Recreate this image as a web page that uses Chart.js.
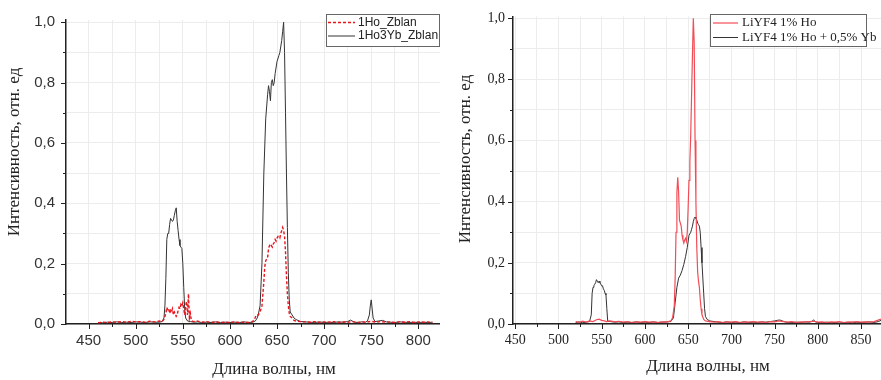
<!DOCTYPE html>
<html>
<head>
<meta charset="utf-8">
<script src="https://cdn.jsdelivr.net/npm/chart.js@4.4.1/dist/chart.umd.min.js"></script>
<style>
html, body { margin: 0; padding: 0; background: #fff; }
#wrap { position: relative; width: 881px; height: 380px; }
.box { position: absolute; top: 0; height: 380px; }
</style>
</head>
<body>
<div id="wrap">
  <div class="box" style="left:0;width:440px"><canvas id="zblan"></canvas></div>
  <div class="box" style="left:440px;width:441px"><canvas id="liyf"></canvas></div>
</div>
<script>
// ---- left panel: ZBLAN glass ----
const zblanHoWl = [
  460, 465, 470, 475, 480, 485, 490, 495, 500, 505,
  510, 515, 520, 525, 528, 530, 532, 533, 534, 535,
  536, 537, 538, 539, 540, 541, 542, 543, 544, 545,
  546, 547, 548, 549, 550, 551, 552, 553, 554, 555,
  556, 557, 558, 559, 561, 565, 570, 575, 580, 585,
  590, 595, 600, 605, 610, 615, 620, 624, 626, 628,
  630, 632, 634, 635, 636, 637, 638, 640, 641, 642,
  643, 644, 645, 646, 647, 648, 649, 650, 651, 652,
  653, 654, 655, 656, 657, 658, 659, 660, 661, 662,
  663, 664, 666, 668, 670, 675, 680, 685, 690, 695,
  700, 705, 710, 715, 720, 725, 730, 735, 740, 745,
  750, 755, 760, 765, 770, 775, 780, 785, 790, 795,
  800, 805, 810, 815
]
const zblanHoI = [
  .004, .006, .005, .007, .006, .008, .006, .009, .007, .008,
  .006, .009, .007, .010, .008, .015, .035, .055, .045, .050,
  .035, .045, .040, .050, .030, .040, .035, .025, .030, .045,
  .055, .050, .065, .060, .070, .050, .030, .060, .075, .030,
  .100, .020, .035, .012, .008, .010, .006, .008, .005, .007,
  .005, .006, .005, .007, .005, .006, .005, .008, .015, .030,
  .030, .040, .060, .100, .140, .190, .210, .220, .250, .260,
  .255, .260, .255, .265, .270, .280, .275, .285, .290, .290,
  .285, .300, .310, .320, .310, .290, .240, .160, .100, .060,
  .035, .025, .020, .012, .010, .008, .007, .006, .008, .005,
  .007, .006, .008, .005, .007, .006, .008, .005, .007, .006,
  .009, .006, .008, .006, .007, .005, .007, .006, .008, .005,
  .007, .006, .007, .005
]
const zblanYbWl = [
  460, 465, 470, 475, 480, 485, 490, 495, 500, 505,
  510, 515, 520, 525, 528, 530, 531, 532, 533, 534,
  535, 536, 537, 538, 539, 540, 541, 542, 543, 544,
  545, 546, 547, 548, 549, 550, 551, 552, 553, 555,
  558, 562, 566, 570, 575, 580, 585, 590, 595, 600,
  605, 610, 615, 620, 624, 627, 629, 630, 632, 634,
  636, 638, 640, 641, 642, 643, 644, 645, 646, 647,
  648, 650, 652, 653, 655, 656, 657, 658, 659, 660,
  661, 662, 663, 664, 666, 668, 670, 675, 680, 685,
  690, 695, 700, 705, 710, 715, 720, 725, 728, 732,
  736, 740, 744, 746, 748, 749, 750, 751, 752, 754,
  758, 762, 766, 770, 775, 780, 785, 790, 795, 800,
  805, 810, 815
]
const zblanYbI = [
  .005, .004, .006, .005, .007, .005, .006, .005, .007, .006,
  .005, .007, .006, .006, .008, .020, .060, .150, .280, .300,
  .300, .330, .350, .345, .340, .345, .360, .375, .385, .340,
  .310, .280, .260, .255, .250, .200, .120, .050, .020, .010,
  .008, .006, .007, .005, .006, .005, .007, .005, .006, .005,
  .006, .005, .007, .005, .006, .010, .020, .030, .060, .200,
  .500, .680, .760, .790, .770, .740, .800, .810, .790, .800,
  .830, .870, .890, .900, .940, .970, 1.00, .900, .700, .500,
  .320, .170, .080, .040, .030, .020, .015, .008, .007, .006,
  .005, .007, .005, .006, .005, .007, .006, .008, .013, .006,
  .005, .007, .006, .010, .030, .060, .080, .050, .020, .008,
  .010, .012, .007, .006, .005, .007, .006, .005, .006, .005,
  .006, .005, .006
]
const zblanXMajor = [450, 500, 550, 600, 650, 700, 750, 800]
const zblanXMinor = [475, 525, 575, 625, 675, 725, 775]

// ---- right panel: LiYF4 crystal ----
const liyfHoWl = [
  520, 524, 528, 532, 536, 540, 544, 547, 550, 553,
  556, 560, 565, 570, 575, 580, 585, 590, 595, 600,
  605, 610, 615, 620, 625, 630, 632, 634, 635, 636,
  637, 638, 639, 640, 641, 642, 643, 644, 645, 646,
  647, 648, 649, 650, 651, 652, 653, 654, 655, 656,
  657, 658, 659, 660, 661, 662, 663, 664, 665, 666,
  668, 670, 675, 680, 685, 690, 695, 700, 705, 710,
  715, 720, 725, 730, 735, 740, 745, 750, 755, 760,
  765, 770, 775, 780, 785, 790, 795, 800, 805, 810,
  815, 820, 825, 830, 835, 840, 845, 850, 855, 860,
  865, 869, 873
]
const liyfHoI = [
  .008, .005, .009, .006, .010, .008, .014, .016, .012, .010,
  .008, .010, .007, .009, .006, .008, .005, .007, .006, .008,
  .006, .007, .005, .007, .006, .010, .020, .060, .150, .300,
  .430, .480, .430, .340, .330, .320, .290, .275, .265, .275,
  .280, .270, .300, .380, .470, .530, .620, .750, .880, 1.00,
  .920, .600, .400, .250, .170, .140, .120, .080, .050, .030,
  .015, .010, .008, .006, .008, .005, .007, .006, .008, .005,
  .007, .006, .008, .006, .007, .005, .008, .007, .010, .008,
  .006, .008, .005, .007, .006, .008, .009, .006, .007, .005,
  .007, .006, .008, .005, .007, .006, .008, .006, .007, .006,
  .008, .012, .016
]
const liyfYbWl = [
  520, 524, 528, 532, 536, 538, 539, 540, 541, 542,
  543, 544, 545, 546, 547, 548, 549, 550, 551, 552,
  553, 554, 555, 556, 557, 560, 565, 570, 575, 580,
  585, 590, 595, 600, 605, 610, 615, 620, 625, 630,
  633, 635, 637, 639, 641, 643, 645, 647, 649, 651,
  652, 653, 654, 655, 656, 657, 658, 659, 660, 661,
  662, 663, 664, 665, 666, 667, 668, 669, 670, 672,
  675, 680, 685, 690, 695, 700, 705, 710, 715, 720,
  725, 730, 735, 740, 745, 750, 753, 756, 759, 763,
  770, 775, 780, 785, 790, 793, 795, 797, 800, 805,
  810, 815, 820, 825, 830, 835, 840, 845, 850, 855,
  860, 865, 870, 873
]
const liyfYbI = [
  .005, .007, .004, .006, .008, .030, .100, .120, .125, .130,
  .135, .145, .140, .135, .140, .135, .130, .125, .125, .115,
  .110, .100, .095, .050, .010, .008, .006, .007, .005, .006,
  .005, .007, .005, .006, .005, .007, .005, .006, .007, .008,
  .020, .070, .120, .150, .160, .175, .195, .220, .250, .290,
  .290, .300, .310, .320, .335, .345, .350, .345, .340, .330,
  .325, .320, .300, .250, .200, .150, .100, .050, .025, .015,
  .010, .008, .006, .005, .007, .005, .006, .005, .007, .005,
  .006, .005, .007, .006, .008, .010, .012, .013, .010, .006,
  .005, .006, .005, .007, .006, .008, .014, .007, .005, .004,
  .006, .004, .005, .003, .005, .004, .006, .004, .005, .006,
  .007, .005, .008, .012
]
const liyfXMajor = [450, 500, 550, 600, 650, 700, 750, 800, 850]
const liyfXMinor = [475, 525, 575, 625, 675, 725, 775, 825]

// shared intensity axis
const yMajor = [0, 0.2, 0.4, 0.6, 0.8, 1.0]
const yTickLabels = ['0,0', '0,2', '0,4', '0,6', '0,8', '1,0']
const yMinor = [0.1, 0.3, 0.5, 0.7, 0.9]

const pts = (wl, v) => wl.map((w, i) => ({x: w, y: v[i]}))
const tickList = (major, minor) =>
  major.map(v => ({value: v, main: true}))
    .concat(minor.map(v => ({value: v, main: false})))
    .sort((a, b) => a.value - b.value)

// tick marks, axis titles and boxed legend
const decor = {
  id: 'decor',
  afterDraw(chart, args, o) {
    const ctx = chart.ctx
    const {x, y} = chart.scales
    const area = chart.chartArea
    ctx.save()
    ctx.strokeStyle = '#222'
    ctx.lineWidth = 1
    ctx.beginPath()
    x.ticks.forEach(t => {
      const px = Math.round(x.getPixelForValue(t.value)) + 0.5
      ctx.moveTo(px, area.bottom)
      ctx.lineTo(px, area.bottom + (t.main ? 5 : 3))
    })
    y.ticks.forEach(t => {
      const py = Math.round(y.getPixelForValue(t.value)) + 0.5
      ctx.moveTo(area.left, py)
      ctx.lineTo(area.left - (t.main ? 5 : 3), py)
    })
    ctx.stroke()

    ctx.fillStyle = '#222'
    ctx.font = o.titleFont
    ctx.textAlign = 'center'
    ctx.textBaseline = 'middle'
    ctx.fillText(o.xTitle.text, o.xTitle.x, o.xTitle.y)
    ctx.save()
    ctx.translate(o.yTitle.x, o.yTitle.y)
    ctx.rotate(-Math.PI / 2)
    ctx.fillText(o.yTitle.text, 0, 0)
    ctx.restore()

    const L = o.legend
    ctx.fillStyle = '#fff'
    ctx.fillRect(L.left, L.top, L.width, L.height)
    ctx.strokeStyle = '#666'
    ctx.lineWidth = 1
    ctx.strokeRect(L.left + 0.5, L.top + 0.5, L.width, L.height)
    ctx.font = L.font
    ctx.textAlign = 'left'
    chart.data.datasets.forEach((ds, i) => {
      const ly = L.top + L.rowY[i]
      ctx.strokeStyle = ds.borderColor
      ctx.lineWidth = ds.borderWidth
      ctx.setLineDash(ds.borderDash || [])
      ctx.beginPath()
      ctx.moveTo(L.left + L.lineX[0], ly)
      ctx.lineTo(L.left + L.lineX[1], ly)
      ctx.stroke()
      ctx.setLineDash([])
      ctx.fillStyle = '#222'
      ctx.fillText(ds.label, L.left + L.textX, ly)
    })
    ctx.restore()
  }
}

function spectrumChart(id, c) {
  return new Chart(document.getElementById(id), {
    type: 'line',
    data: {datasets: c.datasets},
    options: {
      responsive: true,
      maintainAspectRatio: false,
      animation: false,
      layout: {padding: {top: c.top, left: 0, right: 0, bottom: 0}},
      elements: {point: {radius: 0}, line: {tension: 0}},
      scales: {
        x: {
          type: 'linear',
          min: c.xMin,
          max: c.xMax,
          afterBuildTicks: s => { s.ticks = tickList(c.xMajor, c.xMinor) },
          afterFit: s => { s.height = 56 },
          grid: {color: '#ececec', drawTicks: false},
          border: {display: true, color: '#222', width: 1.5},
          ticks: {
            autoSkip: false,
            maxRotation: 0,
            padding: 8,
            color: c.tickColor,
            font: c.tickFont,
            callback: v => c.xMajor.includes(v) ? String(v) : ''
          }
        },
        y: {
          min: 0,
          max: c.yMax,
          afterBuildTicks: s => { s.ticks = tickList(yMajor, yMinor) },
          afterFit: s => { s.width = c.yWidth },
          grid: {color: '#ececec', drawTicks: false},
          border: {display: true, color: '#222', width: 1.5},
          ticks: {
            autoSkip: false,
            padding: c.yPad,
            color: c.tickColor,
            font: c.tickFont,
            callback: v => {
              const i = yMajor.indexOf(v)
              return i < 0 ? '' : yTickLabels[i]
            }
          }
        }
      },
      plugins: {
        legend: {display: false},
        tooltip: {enabled: false},
        decor: c.decor
      }
    },
    plugins: [decor]
  })
}

const titleFont = '17px "Liberation Serif", "Times New Roman", serif'

spectrumChart('zblan', {
  top: 20, xMin: 426, xMax: 823, yMax: 1.0076, yWidth: 66, yPad: 11,
  xMajor: zblanXMajor, xMinor: zblanXMinor,
  tickColor: '#333',
  tickFont: {family: '"Liberation Sans", Arial, sans-serif', size: 15},
  datasets: [
    {label: '1Ho_Zblan', data: pts(zblanHoWl, zblanHoI), borderColor: '#e8141c', borderWidth: 1.4, borderDash: [3, 2]},
    {label: '1Ho3Yb_Zblan', data: pts(zblanYbWl, zblanYbI), borderColor: '#333', borderWidth: 1}
  ],
  decor: {
    titleFont,
    xTitle: {text: 'Длина волны, нм', x: 274, y: 370},
    yTitle: {text: 'Интенсивность, отн. ед', x: 15, y: 152},
    legend: {
      left: 326, top: 14, width: 113, height: 32,
      rowY: [8.5, 22], lineX: [2, 29], textX: 32,
      font: '12px "Liberation Sans", Arial, sans-serif'
    }
  }
})

spectrumChart('liyf', {
  top: 10, xMin: 447.5, xMax: 873, yMax: 1.006, yWidth: 73, yPad: 8,
  xMajor: liyfXMajor, xMinor: liyfXMinor,
  tickColor: '#222',
  tickFont: {family: '"Liberation Serif", "Times New Roman", serif', size: 14},
  datasets: [
    {label: 'LiYF4 1% Ho', data: pts(liyfHoWl, liyfHoI), borderColor: '#f24c56', borderWidth: 1.2},
    {label: 'LiYF4 1% Ho + 0,5% Yb', data: pts(liyfYbWl, liyfYbI), borderColor: '#333', borderWidth: 1}
  ],
  decor: {
    titleFont,
    xTitle: {text: 'Длина волны, нм', x: 268, y: 367},
    yTitle: {text: 'Интенсивность, отн. ед', x: 26, y: 159},
    legend: {
      left: 270, top: 14, width: 156, height: 32,
      rowY: [9, 23.5], lineX: [3, 28], textX: 32,
      font: '13px "Liberation Serif", "Times New Roman", serif'
    }
  }
})
</script>
</body>
</html>
